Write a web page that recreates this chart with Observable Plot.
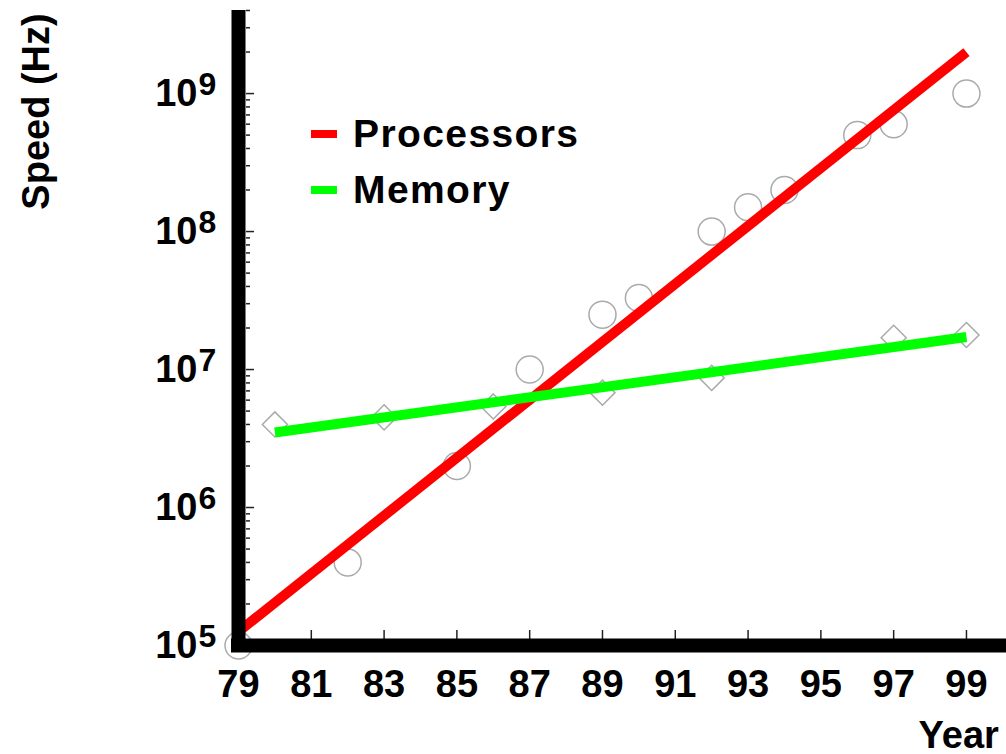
<!DOCTYPE html>
<html>
<head>
<meta charset="utf-8">
<script src="https://cdn.jsdelivr.net/npm/d3@7"></script>
<script src="https://cdn.jsdelivr.net/npm/@observablehq/plot@0.6"></script>
<style>
  html, body { margin: 0; padding: 0; background: #fff; overflow: hidden; }
  #wrap { position: relative; width: 1006px; height: 754px; }
  #legend { position: absolute; left: 311px; top: 106px; font-family: "Liberation Sans", Arial, sans-serif; font-weight: bold; font-size: 39px; letter-spacing: 1.4px; color: #000; }
  .row { display: flex; align-items: center; height: 56px; line-height: 56px; }
  .sw { width: 26px; height: 8px; margin-right: 16px; }
</style>
</head>
<body>
<div id="wrap"></div>
<script>
// Processor speed samples (circles)
const procYears = [79, 82, 85, 87, 89, 90, 92, 93, 94, 96, 97, 99];
const procSpeed = [1e5, 4e5, 2e6, 1e7, 2.5e7, 3.3e7, 1e8, 1.5e8, 2e8, 5e8, 6e8, 1e9];
// Memory speed samples (diamonds)
const memYears = [80, 83, 86, 89, 92, 97, 99];
const memSpeed = [4e6, 4.5e6, 5.4e6, 6.8e6, 8.7e6, 1.7e7, 1.78e7];
// Trend lines (end points)
const procTrendYears = [79, 99];
const procTrend = [1.26e5, 2.0e9];
const memTrendYears = [80, 99];
const memTrend = [3.5e6, 1.72e7];
// Ticks
const xTicks = [79, 81, 83, 85, 87, 89, 91, 93, 95, 97, 99];
const yMajor = [1e5, 1e6, 1e7, 1e8, 1e9];
const yExp = ["5", "6", "7", "8", "9"];
const yMinor = [];
for (const p of [5, 6, 7, 8, 9]) for (const m of [2,3,4,5,6,7,8,9]) { const v = m * 10 ** p; if (v <= 4e9) yMinor.push(v); }

const procPts = procYears.map((y, i) => ({year: y, v: procSpeed[i]}));
const memPts = memYears.map((y, i) => ({year: y, v: memSpeed[i]}));
const procLine = procTrendYears.map((y, i) => ({year: y, v: procTrend[i]}));
const memLine = memTrendYears.map((y, i) => ({year: y, v: memTrend[i]}));
const labels = yMajor.map((v, i) => ({v, e: yExp[i]}));

const FONT = "Liberation Sans, Arial, sans-serif";

const chart = Plot.plot({
  width: 1006,
  height: 754,
  marginLeft: 238,
  marginRight: 0,
  marginTop: 10,
  marginBottom: 109,
  style: {fontFamily: FONT, background: "#fff", overflow: "visible"},
  x: {domain: [79, 100.1], axis: null, label: null},
  y: {type: "log", domain: [1e5, 4e9], axis: null, label: null},
  marks: [
    Plot.dot(procPts, {x: "year", y: "v", r: 13.5, stroke: "#aaa", strokeWidth: 1.5, fill: "none"}),
    Plot.dot(memPts, {x: "year", y: "v", r: 11.3, symbol: "diamond2", stroke: "#aaa", strokeWidth: 1.5, fill: "none"}),
    Plot.line(procLine, {x: "year", y: "v", stroke: "#ff0000", strokeWidth: 10, strokeLinecap: "butt"}),
    Plot.line(memLine, {x: "year", y: "v", stroke: "#00ff00", strokeWidth: 10, strokeLinecap: "butt"}),
    // ticks
    Plot.axisY({ticks: yMinor, tickSize: 4, dx: 12, tickFormat: () => "", label: null, stroke: "#222", strokeWidth: 1.5}),
    Plot.axisY({ticks: yMajor, tickSize: 8, dx: 16, tickFormat: () => "", label: null, stroke: "#222", strokeWidth: 1.5}),
    Plot.axisX({ticks: xTicks, tickSize: 9, dy: -15, tickFormat: () => "", label: null, stroke: "#222", strokeWidth: 1.5}),
    // axis lines
    Plot.ruleX([79], {stroke: "#000", strokeWidth: 14}),
    Plot.ruleY([1e5], {stroke: "#000", strokeWidth: 14, strokeLinecap: "square"}),
    // tick labels
    Plot.text(xTicks, {x: d => d, frameAnchor: "bottom", dy: 39, text: d => String(d), fontSize: 38, fontWeight: "bold", fill: "#000", lineAnchor: "middle"}),
    Plot.text(labels, {y: "v", frameAnchor: "left", dx: -41, text: () => "10", textAnchor: "end", fontSize: 38, fontWeight: "bold", fill: "#000", lineAnchor: "middle"}),
    Plot.text(labels, {y: "v", frameAnchor: "left", dx: -40, dy: -9, text: "e", textAnchor: "start", fontSize: 32, fontWeight: "bold", fill: "#000", lineAnchor: "middle"}),
    // axis titles
    Plot.text(["Speed (Hz)"], {frameAnchor: "top-left", dx: -202, dy: 101, rotate: -90, text: d => d, fontSize: 38, fontWeight: "bold", fill: "#000", textAnchor: "middle", lineAnchor: "middle"}),
    Plot.text(["Year"], {frameAnchor: "bottom-right", dx: -88, dy: 90, text: d => d, fontSize: 38, fontWeight: "bold", fill: "#000", textAnchor: "start", lineAnchor: "middle"})
  ]
});

const wrap = document.getElementById("wrap");
wrap.appendChild(chart);
const legend = document.createElement("div");
legend.id = "legend";
legend.innerHTML =
  '<div class="row"><span class="sw" style="background:#ff0000"></span><span>Processors</span></div>' +
  '<div class="row"><span class="sw" style="background:#00ff00"></span><span>Memory</span></div>';
wrap.appendChild(legend);
</script>
</body>
</html>
